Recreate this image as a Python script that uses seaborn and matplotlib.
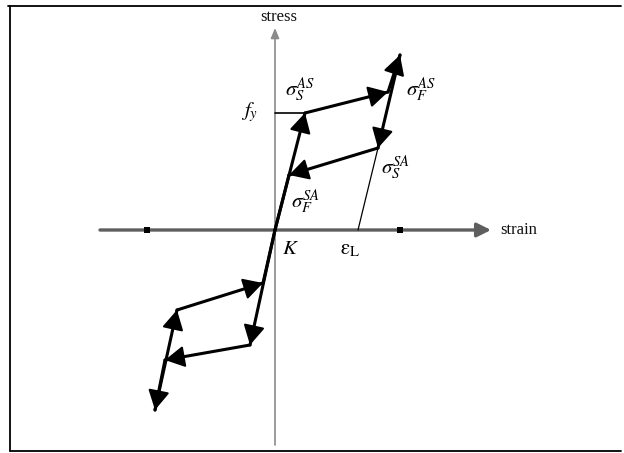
import matplotlib
matplotlib.use("Agg")
import matplotlib.pyplot as plt
import pandas as pd
import seaborn as sns

# Hysteresis path nodes (strain, stress), arbitrary units
node_names = ["K", "A", "B", "C", "D", "E", "F", "G", "H", "I", "J"]
node_strain = [0.0, 3.0, 11.3, 12.5, 10.3, 1.4, -2.5, -11.0, -12.0, -9.8, -1.2]
node_stress = [0.0, 11.7, 13.8, 17.5, 8.2, 5.5, -11.5, -13.0, -18.0, -8.0, -5.3]

# Path segments: start node, end node, arrowhead at end
seg_start = ["K", "A", "B", "C", "D", "E", "K", "F", "G", "H", "I", "J"]
seg_end   = ["A", "B", "C", "D", "E", "K", "F", "G", "H", "I", "J", "K"]
seg_arrow = [True, True, True, True, True, False, True, True, True, True, True, False]

# Yield stress and transformation strain markers
f_y = 11.7
eps_L = 8.3
axis_dots = [-12.8, 12.5]

sns.set_theme(style="white")
plt.rcParams["font.family"] = ["Liberation Serif", "DejaVu Serif"]
plt.rcParams["mathtext.fontset"] = "stix"

fig = plt.figure(figsize=(6.24, 4.53), dpi=100)
ax = fig.add_axes([0, 0, 1, 1])
ax.set_xlim(-27.5, 34.9)
ax.set_ylim(-22.3, 23.0)
ax.axis("off")

pos = dict(zip(node_names, zip(node_strain, node_stress)))

# Frame around the drawing (left, top and bottom edges)
frame_kw = dict(color="black", lw=1.3, transform=fig.transFigure, clip_on=False)
fig.add_artist(plt.Line2D([10 / 624, 10 / 624], [1 - 6 / 453, 1 - 451 / 453], **frame_kw))
fig.add_artist(plt.Line2D([8 / 624, 621 / 624], [1 - 6 / 453, 1 - 6 / 453], **frame_kw))
fig.add_artist(plt.Line2D([10 / 624, 621 / 624], [1 - 451 / 453, 1 - 451 / 453], **frame_kw))

# Coordinate axes
ax.annotate("", xy=(21.6, 0), xytext=(-17.5, 0),
            arrowprops=dict(arrowstyle="-|>,head_length=0.7,head_width=0.35",
                            color="#5e5e5e", lw=2.4, shrinkA=0, shrinkB=0,
                            mutation_scale=12))
ax.annotate("", xy=(0, 20.2), xytext=(0, -21.5),
            arrowprops=dict(arrowstyle="-|>,head_length=0.6,head_width=0.25",
                            color="#8a8a8a", lw=1.2, shrinkA=0, shrinkB=0,
                            mutation_scale=10))
ax.text(22.5, 0, "strain", fontsize=12, va="center", ha="left", color="#111111")
ax.text(0.4, 21.3, "stress", fontsize=12, va="center", ha="center", color="#111111")

sns.scatterplot(x=axis_dots, y=[0, 0], ax=ax, marker="s", s=14, color="black",
                edgecolor="none", zorder=4)

# Loading / unloading path
rows = []
for i, (s, e) in enumerate(zip(seg_start, seg_end)):
    for n in (s, e):
        rows.append({"seg": i, "strain": pos[n][0], "stress": pos[n][1]})
path_df = pd.DataFrame(rows)
sns.lineplot(data=path_df, x="strain", y="stress", units="seg", estimator=None,
             sort=False, color="black", lw=2.2, ax=ax, legend=False, zorder=5)

for s, e, a in zip(seg_start, seg_end, seg_arrow):
    if not a:
        continue
    x0, y0 = pos[s]
    x1, y1 = pos[e]
    ax.annotate("", xy=(x1, y1), xytext=(x1 - 0.15 * (x1 - x0), y1 - 0.15 * (y1 - y0)),
                arrowprops=dict(arrowstyle="-|>,head_length=1.0,head_width=0.55",
                                color="black", lw=1.5, shrinkA=0, shrinkB=0,
                                mutation_scale=12), zorder=6)

# Yield level and transformation strain
ax.plot([0, pos["A"][0]], [f_y, f_y], color="black", lw=1.2, zorder=3)
ax.plot([pos["D"][0], eps_L], [pos["D"][1], 0], color="black", lw=0.9, zorder=3)

# Labels
lab = dict(fontsize=15, color="black", ha="center", va="center")
ax.text(-2.5, f_y + 0.1, r"$f_y$", **lab)
ax.text(1.6, -2.0, r"$K$", **lab)
ax.text(eps_L - 0.8, -2.0, r"$\mathrm{\varepsilon}_{\mathrm{L}}$", **lab)
ax.text(2.5, 14.0, r"$\sigma_S^{AS}$", **lab)
ax.text(14.6, 14.0, r"$\sigma_F^{AS}$", **lab)
ax.text(12.1, 6.2, r"$\sigma_S^{SA}$", **lab)
ax.text(3.1, 2.8, r"$\sigma_F^{SA}$", **lab)

fig.savefig("out.png", dpi=100)
